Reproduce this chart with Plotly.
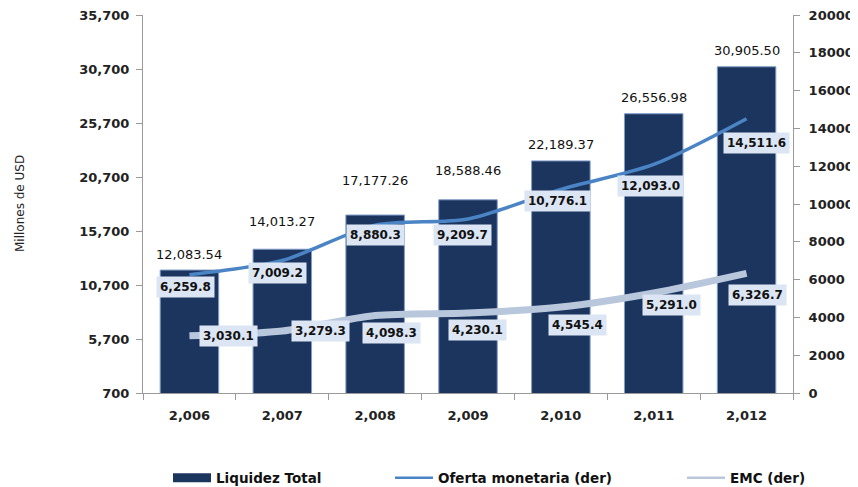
import plotly.graph_objects as go

# ---- data ----
years = ["2,006", "2,007", "2,008", "2,009", "2,010", "2,011", "2,012"]
liquidez_total = [12083.54, 14013.27, 17177.26, 18588.46, 22189.37, 26556.98, 30905.50]
oferta_monetaria = [6259.8, 7009.2, 8880.3, 9209.7, 10776.1, 12093.0, 14511.6]
emc = [3030.1, 3279.3, 4098.3, 4230.1, 4545.4, 5291.0, 6326.7]
left_ticks = [700, 5700, 10700, 15700, 20700, 25700, 30700, 35700]
right_ticks = [0, 2000, 4000, 6000, 8000, 10000, 12000, 14000, 16000, 18000, 20000]

# ---- style (label offsets in px) ----
bar_label_gap = [16, 28, 35, 29, 16, 16, 16]
of_dx = [-4, -5, 0, -6, -3, -3, 10]
of_dy = [12, 12, 10, 16, 12, 22, 24]
emc_dx = [39, 38, 16, 9, 17, 18, 11]
emc_dy = [0, 0, 17, 17, 18, 12, 22]

NAVY = "#1b355f"
OF_COLOR = "#4a84c4"
EMC_COLOR = "#b9c7dc"
FONT = "DejaVu Sans"
PAGE_OFF = 8          # default body margin of the html page
W, H = 858 - PAGE_OFF, 487 - PAGE_OFF
PL, PR, PT, PB = 143, 793, 15, 393   # plot area in page pixels

fig = go.Figure()
fig.add_trace(go.Bar(
    x=years, y=liquidez_total, name="Liquidez Total", showlegend=False,
    marker=dict(color=NAVY, line=dict(color="#7f9cc8", width=1)),
    width=0.63, yaxis="y"))
fig.add_trace(go.Scatter(
    x=years, y=emc, name="EMC (der)", showlegend=False, mode="lines",
    line=dict(color=EMC_COLOR, width=7, shape="spline", smoothing=0.8), yaxis="y2"))
fig.add_trace(go.Scatter(
    x=years, y=oferta_monetaria, name="Oferta monetaria (der)", showlegend=False,
    mode="lines", line=dict(color=OF_COLOR, width=3.5, shape="spline", smoothing=0.8),
    yaxis="y2"))

# legend-only entries
fig.add_trace(go.Scatter(x=[None], y=[None], mode="lines", name="Liquidez Total",
                         line=dict(color=NAVY, width=9), legend="legend"))
fig.add_trace(go.Scatter(x=[None], y=[None], mode="lines", name="Oferta monetaria (der)",
                         line=dict(color=OF_COLOR, width=2.5), legend="legend2"))
fig.add_trace(go.Scatter(x=[None], y=[None], mode="lines", name="EMC (der)",
                         line=dict(color=EMC_COLOR, width=2.5), legend="legend3"))

annotations = []
for i, yr in enumerate(years):
    annotations.append(dict(
        x=yr, y=liquidez_total[i], xref="x", yref="y",
        text=f"{liquidez_total[i]:,.2f}", showarrow=False,
        yshift=bar_label_gap[i], font=dict(family=FONT, size=13, color="#111")))
    annotations.append(dict(
        x=yr, y=oferta_monetaria[i], xref="x", yref="y2",
        text=f"<b>{oferta_monetaria[i]:,.1f}</b>", showarrow=False,
        xshift=of_dx[i], yshift=-of_dy[i], bgcolor="#dbe5f4",
        borderpad=3, font=dict(family=FONT, size=12, color="#111")))
    annotations.append(dict(
        x=yr, y=emc[i], xref="x", yref="y2",
        text=f"<b>{emc[i]:,.1f}</b>", showarrow=False,
        xshift=emc_dx[i], yshift=-emc_dy[i], bgcolor="#dbe5f4",
        borderpad=3, font=dict(family=FONT, size=12, color="#111")))

annotations.append(dict(
    x=(20 - PL) / (PR - PL), y=0.5, xref="paper", yref="paper",
    xanchor="center", yanchor="middle",
    text="Millones de USD", textangle=-90, showarrow=False,
    font=dict(family=FONT, size=12, color="#222")))

legend_common = dict(orientation="h", yanchor="middle", y=1 - (478 - PAGE_OFF) / H,
                     yref="container", xanchor="left", xref="container",
                     bgcolor="rgba(0,0,0,0)", itemwidth=38,
                     font=dict(family=FONT, size=13.5, color="#111", weight="bold"))

axis_common = dict(showline=True, linecolor="#9a9a9a", linewidth=1,
                   ticks="outside", ticklen=6, tickcolor="#9a9a9a",
                   showgrid=False, zeroline=False, automargin=False,
                   ticklabeloverflow="allow",
                   tickfont=dict(family=FONT, size=13, color="#222", weight="bold"))

fig.update_layout(
    width=W, height=H,
    margin=dict(l=PL - PAGE_OFF, r=W - (PR - PAGE_OFF), t=PT - PAGE_OFF,
                b=H - (PB - PAGE_OFF), autoexpand=False),
    paper_bgcolor="white", plot_bgcolor="white",
    font=dict(family=FONT),
    xaxis=dict(type="category", categoryorder="array", categoryarray=years,
               tickson="boundaries", ticklabelstandoff=10, **axis_common),
    yaxis=dict(range=[700, 35700], tickvals=left_ticks, tickformat=",",
               ticklabelstandoff=4, **axis_common),
    yaxis2=dict(range=[0, 20000], tickvals=right_ticks, tickformat="d",
                overlaying="y", side="right", anchor="x",
                ticklabelstandoff=6, **axis_common),
    legend=dict(x=(168 - PAGE_OFF) / W, **legend_common),
    legend2=dict(x=(390 - PAGE_OFF) / W, **legend_common),
    legend3=dict(x=(682 - PAGE_OFF) / W, **legend_common),
    annotations=annotations,
)

fig.write_html("out.html")
